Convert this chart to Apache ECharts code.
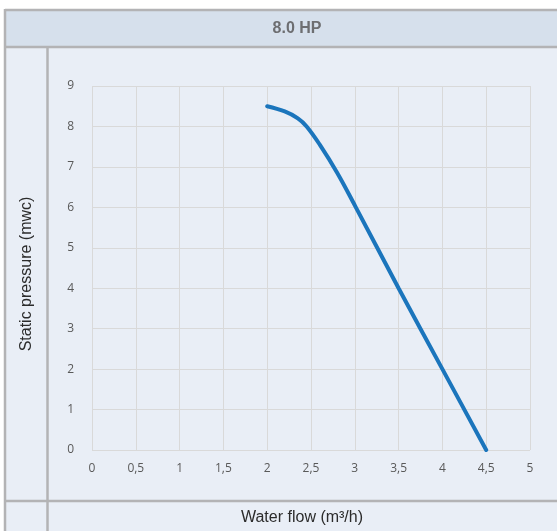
<!DOCTYPE html>
<html><head><meta charset="utf-8">
<script src="https://cdn.jsdelivr.net/npm/echarts@6/dist/echarts.min.js"></script>
<style>html,body{margin:0;padding:0;background:#fff}#c{width:557px;height:531px}</style>
</head><body><div id="c"></div>
<script>
var title = '8.0 HP';
var xName = 'Water flow (m³/h)';
var yName = 'Static pressure (mwc)';
var flow = [2, 2.2, 2.35, 2.45, 2.6, 2.8, 3, 3.5, 4, 4.5];
var pressure = [8.5, 8.37, 8.2, 8.0, 7.55, 6.85, 6.05, 4.0, 2.0, 0];
var xTicks = ['0','0,5','1','1,5','2','2,5','3','3,5','4','4,5','5'];

var chart = echarts.init(document.getElementById('c'));
var border = '#b3b3b5';
chart.setOption({
  animation: false,
  backgroundColor: '#ffffff',
  graphic: [
    {type:'rect', shape:{x:5,y:10,width:560,height:37}, style:{fill:'#d6e0ec'}, z:-10, silent:true},
    {type:'rect', shape:{x:5,y:47,width:560,height:500}, style:{fill:'#e9eef6'}, z:-10, silent:true},
    {type:'line', shape:{x1:5,y1:10,x2:560,y2:10}, style:{stroke:border,lineWidth:2.5}, z:-5},
    {type:'line', shape:{x1:5,y1:47,x2:560,y2:47}, style:{stroke:border,lineWidth:2.5}, z:-5},
    {type:'line', shape:{x1:5,y1:501,x2:560,y2:501}, style:{stroke:border,lineWidth:2.5}, z:-5},
    {type:'line', shape:{x1:5,y1:9,x2:5,y2:540}, style:{stroke:border,lineWidth:2.5}, z:-5},
    {type:'line', shape:{x1:47.5,y1:47,x2:47.5,y2:540}, style:{stroke:border,lineWidth:2.5}, z:-5},
    {type:'text', x:297, y:29, style:{text:title, fill:'#6d6e71', font:'bold 16px "Liberation Sans", Arial, sans-serif', textAlign:'center', textVerticalAlign:'middle'}},
    {type:'text', x:302, y:518, style:{text:xName, fill:'#2b2b2b', font:'16px "Liberation Sans", Arial, sans-serif', textAlign:'center', textVerticalAlign:'middle'}},
    {type:'text', x:27, y:274, rotation:Math.PI/2, style:{text:yName, fill:'#2b2b2b', font:'16px "Liberation Sans", Arial, sans-serif', textAlign:'center', textVerticalAlign:'middle'}}
  ],
  grid: {left:92, right:27, top:86, bottom:81},
  xAxis: {
    type:'value', min:0, max:5, interval:0.5,
    axisLine:{show:false}, axisTick:{show:false},
    splitLine:{show:true, lineStyle:{color:'#d9d9d9', width:1}},
    axisLabel:{color:'#595959', fontSize:12, margin:13, fontFamily:'"Open Sans", sans-serif',
      formatter:function(v){ return xTicks[Math.round(v*2)]; }}
  },
  yAxis: {
    type:'value', min:0, max:9, interval:1,
    axisLine:{show:false}, axisTick:{show:false},
    splitLine:{show:true, lineStyle:{color:'#d9d9d9', width:1}},
    axisLabel:{color:'#595959', fontSize:12, margin:18, fontFamily:'"Open Sans", sans-serif'}
  },
  series: [{
    type:'line', data: flow.map(function(x,i){return [x, pressure[i]];}),
    smooth:0.4, showSymbol:false, symbol:'none',
    lineStyle:{color:'#1b75bc', width:4, cap:'round'}
  }]
});
</script></body></html>
